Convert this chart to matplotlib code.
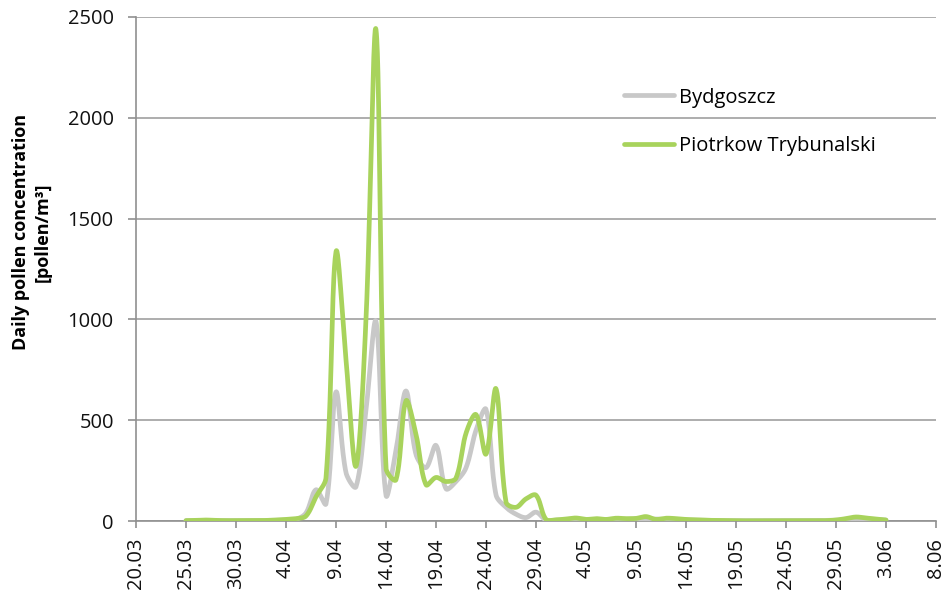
import numpy as np
import pandas as pd
import matplotlib
matplotlib.use('Agg')
import matplotlib.pyplot as plt
import matplotlib.dates as mdates
from matplotlib.ticker import FuncFormatter

plt.rcParams['font.family'] = ['Open Sans', 'DejaVu Sans']

# daily values 25.03 - 3.06
dates = pd.date_range('2013-03-25', '2013-06-03', freq='D')

bydgoszcz = [
    2, 2, 3, 2, 2, 2, 2, 2, 3, 4,      # 25.03 - 3.04
    5, 8, 40, 155, 85, 640, 240, 170, 550, 990,   # 4.04 - 13.04
    128, 350, 645, 330, 265, 375, 160, 196, 264, 450,   # 14.04 - 23.04
    554, 130, 68, 34, 17, 44, 5, 5, 8, 10,   # 24.04 - 3.05
    6, 5, 8, 10, 8, 12, 8, 10, 8, 6,   # 4.05 - 13.05
    5, 4, 3, 3, 2, 2, 2, 2, 2, 2,   # 14.05 - 23.05
    2, 2, 2, 2, 3, 4, 8, 12, 10, 8, 5,   # 24.05 - 3.06
]

piotrkow = [
    2, 3, 5, 3, 2, 2, 2, 2, 3, 5,
    8, 12, 25, 120, 215, 1335, 800, 272, 1000, 2437,
    262, 205, 596, 430, 180, 216, 196, 213, 435, 528,
    332, 656, 94, 68, 110, 128, 8, 6, 10, 15,
    8, 12, 8, 14, 12, 13, 22, 8, 14, 12,
    8, 6, 4, 3, 2, 1, 1, 1, 1, 1,
    1, 1, 1, 1, 2, 5, 12, 20, 15, 10, 5,
]

tick_dates = pd.date_range('2013-03-20', '2013-06-08', freq='5D')

# rough screen scale (px per day, px per unit) used only for smoothing
SX, SY = 10.0, 0.2016


def smooth(x, y, n=30):
    # Excel-like smoothed line: bezier through every point, control
    # arms scaled by neighbouring segment lengths in screen space
    p = np.column_stack([np.asarray(x, float) * SX, np.asarray(y, float) * SY])
    m = len(p)
    out = []
    t = np.linspace(0, 1, n, endpoint=False)[:, None]
    for i in range(m - 1):
        p0 = p[i - 1] if i > 0 else p[i]
        p1, p2 = p[i], p[i + 1]
        p3 = p[i + 2] if i + 2 < m else p[i + 1]
        d01 = np.linalg.norm(p1 - p0)
        d12 = np.linalg.norm(p2 - p1)
        d23 = np.linalg.norm(p3 - p2)
        f1 = d12 / (d01 + d12) if d01 + d12 > 0 else 0
        f2 = d12 / (d12 + d23) if d12 + d23 > 0 else 0
        c1 = p1 + (p2 - p0) * f1 / 3
        c2 = p2 - (p3 - p1) * f2 / 3
        seg = ((1 - t) ** 3) * p1 + 3 * ((1 - t) ** 2) * t * c1 \
            + 3 * (1 - t) * t ** 2 * c2 + t ** 3 * p2
        out.append(seg)
    out.append(p[-1][None, :])
    out = np.vstack(out)
    return out[:, 0] / SX, out[:, 1] / SY


fig = plt.figure(figsize=(9.49, 5.96), dpi=100)
ax = fig.add_axes([0.1433, 0.1258, 0.843, 0.8457])

xnum = mdates.date2num(dates)
sx, sy = smooth(xnum, bydgoszcz)
ax.plot(sx, sy, color='#c8c8c8', lw=3.4, label='Bydgoszcz',
        solid_capstyle='round', zorder=3)
sx, sy = smooth(xnum, piotrkow)
ax.plot(sx, sy, color='#a8d35c', lw=3.4, label='Piotrkow Trybunalski',
        solid_capstyle='round', zorder=4)

ax.set_xlim(mdates.date2num(tick_dates[0]), mdates.date2num(tick_dates[-1]))
ax.set_ylim(0, 2500)
ax.set_yticks([0, 500, 1000, 1500, 2000, 2500])
ax.set_xticks(mdates.date2num(tick_dates))
ax.xaxis.set_major_formatter(FuncFormatter(
    lambda v, pos: '%d.%02d' % (mdates.num2date(v).day, mdates.num2date(v).month)))
plt.setp(ax.get_xticklabels(), rotation=90)

ax.grid(axis='y', color='#a0a0a0', lw=1.2)
ax.set_axisbelow(True)
for s in ['top', 'right']:
    ax.spines[s].set_visible(False)
for s in ['left', 'bottom']:
    ax.spines[s].set_color('#909090')
    ax.spines[s].set_linewidth(1.2)
ax.tick_params(axis='both', colors='#909090', labelcolor='#111111',
               labelsize=14.5, width=1.2)
ax.tick_params(axis='x', length=5, pad=7)
ax.tick_params(axis='y', length=6, pad=10)

ax.set_ylabel('Daily pollen concentration\n[pollen/m³]', fontsize=13,
              fontweight='bold', linespacing=1.3)
ax.yaxis.set_label_coords(-0.105, 0.573)

ax.legend(loc='upper left', bbox_to_anchor=(0.587, 0.896), frameon=False,
          fontsize=14.5, handlelength=2.5, handletextpad=0.25,
          labelspacing=1.4)

fig.savefig('out.png', dpi=100)
